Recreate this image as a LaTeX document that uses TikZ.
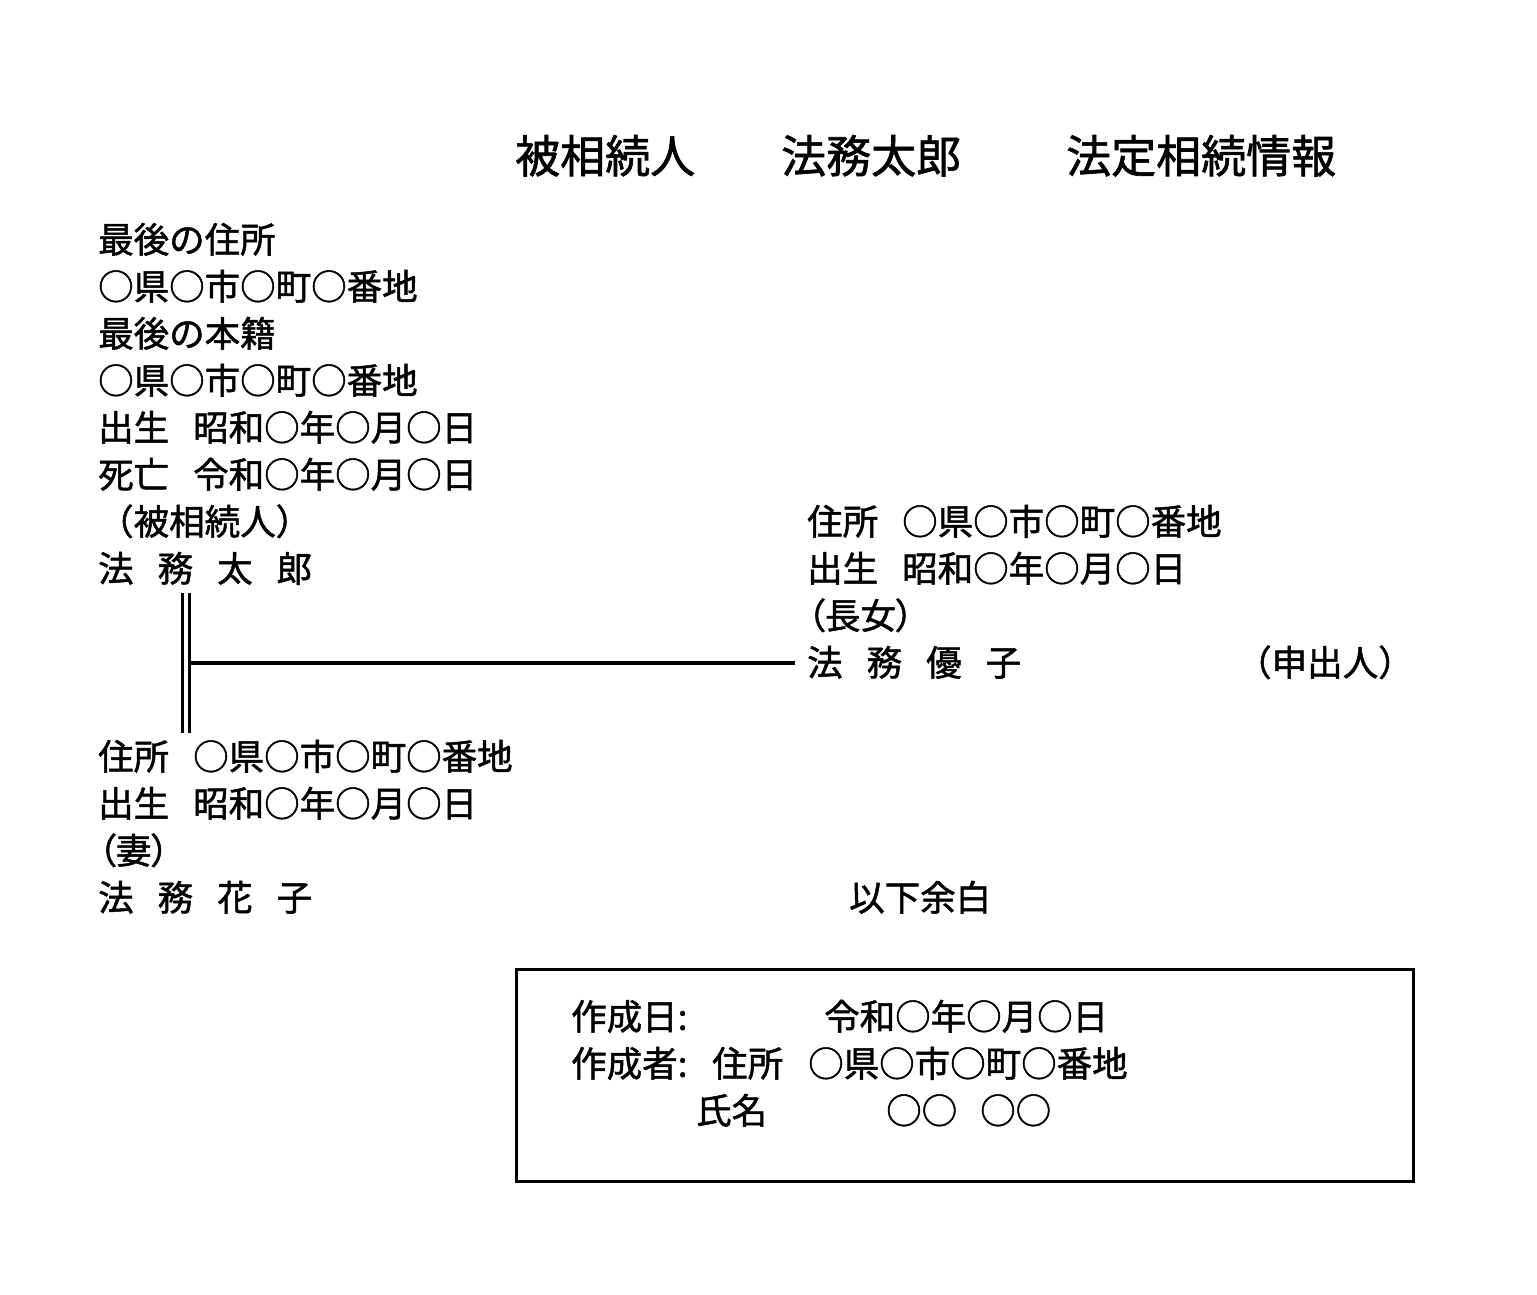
\documentclass[tikz,border=0pt]{standalone}
\usepackage{fontspec}
\setmainfont[RawFeature={embolden=1.4}]{Noto Sans CJK JP}
\newfontfamily\jpp[RawFeature={+palt;embolden=1.4}]{Noto Sans CJK JP}
\begin{document}
\begin{tikzpicture}[x=1pt,y=-1pt,
  txt/.style={anchor=west,inner sep=0pt,yshift=-10pt,font=\fontsize{35.5}{40}\selectfont,text height=.88em,text depth=.12em},
  ttl/.style={anchor=west,inner sep=0pt,yshift=-14pt,font=\fontsize{45}{50}\selectfont,text height=.88em,text depth=.12em},
  rel/.style={line width=3.2pt},
  dbl/.style={line width=3pt,double=white,double distance=4pt},
  frame/.style={draw,line width=3pt}]
\useasboundingbox (0,0) rectangle (1537,1295);
\def\g{\hspace{24pt}}
% title
\node[ttl] (t1) at (515,155) {被相続人};
\node[ttl] (t2) at (781,155) {法務太郎};
\node[ttl] (t3) at (1066,155) {法定相続情報};
% deceased
\node[txt] (a1) at (98,239) {最後の住所};
\node[txt] (a2) at (98,286) {○県○市○町○番地};
\node[txt] (a3) at (98,333) {最後の本籍};
\node[txt] (a4) at (98,380) {○県○市○町○番地};
\node[txt] (a5) at (98,427) {出生\g 昭和○年○月○日};
\node[txt] (a6) at (98,474) {死亡\g 令和○年○月○日};
\node[txt] (a7) at (98,521) {（被相続人）};
\node[txt] (taro) at (98,568) {法\g 務\g 太\g 郎};
% wife
\node[txt] (b1) at (98,756) {住所\g ○県○市○町○番地};
\node[txt] (b2) at (98,803) {出生\g 昭和○年○月○日};
\node[txt,font=\fontsize{35.5}{40}\jpp] (b3) at (98,850) {（妻）};
\node[txt] (hanako) at (98,897) {法\g 務\g 花\g 子};
% daughter
\node[txt] (c1) at (807,521) {住所\g ○県○市○町○番地};
\node[txt] (c2) at (807,568) {出生\g 昭和○年○月○日};
\node[txt,font=\fontsize{35.5}{40}\jpp] (c3) at (807,615) {（長女）};
\node[txt] (yuko) at (807,662) {法\g 務\g 優\g 子};
\node[txt] (c5) at (1236,662) {（申出人）};
\node[txt] (end) at (849,897) {以下余白};
% connectors
\coordinate (mtop) at (185.5,593);
\coordinate (mbot) at (185.5,733);
\coordinate (mr) at (189,663);
\coordinate (yl) at (795,663);
\draw[dbl] (mtop) -- (mbot);
\draw[rel] (mr) -- (yl);
% box
\draw[frame] (516,969) rectangle (1413,1181);
\node[txt] (d1) at (571,1016) {作成日:};
\node[txt] (d2) at (824,1016) {令和○年○月○日};
\node[txt] (d3) at (571,1063) {作成者:};
\node[txt] (d4) at (712,1063) {住所};
\node[txt] (d5) at (808,1063) {○県○市○町○番地};
\node[txt] (d6) at (696,1110) {氏名};
\node[txt] (d7) at (886,1110) {○○};
\node[txt] (d8) at (980,1110) {○○};
\end{tikzpicture}
\end{document}
